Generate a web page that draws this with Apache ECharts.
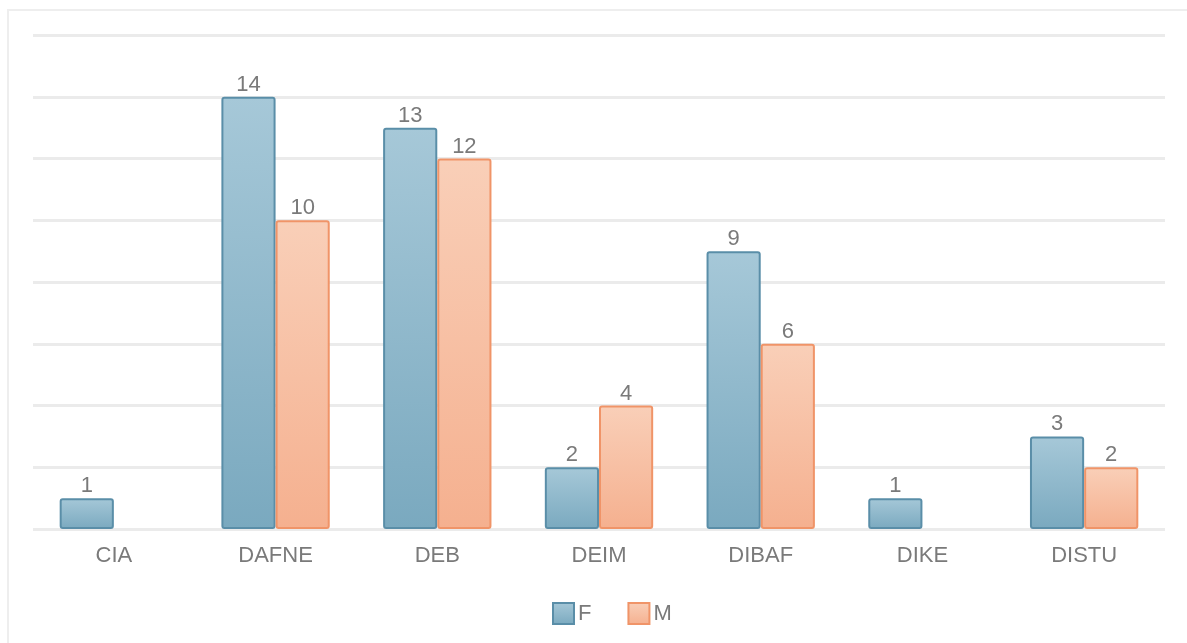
<!DOCTYPE html>
<html>
<head>
<meta charset="utf-8">
<script src="https://cdn.jsdelivr.net/npm/echarts@6/dist/echarts.min.js"></script>
<style>
html,body{margin:0;padding:0;background:#fff;}
#frame{position:absolute;left:7px;top:9px;width:1190px;height:640px;border-left:2px solid #eeeeee;border-top:2px solid #eeeeee;}
#main{position:absolute;left:0;top:0;width:1187px;height:643px;}
</style>
</head>
<body>
<div id="frame"></div>
<div id="main"></div>
<script>
const categories = ['CIA', 'DAFNE', 'DEB', 'DEIM', 'DIBAF', 'DIKE', 'DISTU'];
const valuesF = [1, 14, 13, 2, 9, 1, 3];
const valuesM = [null, 10, 12, 4, 6, null, 2];
const seriesNames = ['F', 'M'];

const FONT = 'Liberation Sans, Arial, sans-serif';
const chart = echarts.init(document.getElementById('main'), null, {renderer: 'canvas'});
const grad = (top, bottom) => new echarts.graphic.LinearGradient(0, 0, 0, 1, [
  {offset: 0, color: top}, {offset: 1, color: bottom}
]);
const labelStyle = {show: true, position: 'top', distance: 1, color: '#7a7a7a', fontSize: 22, fontFamily: FONT};
chart.setOption({
  animation: false,
  grid: {left: 33, right: 22, top: 35, bottom: 114},
  legend: {
    top: 597, left: 547, itemWidth: 21, itemHeight: 21, itemGap: 36,
    icon: 'rect',
    textStyle: {color: '#7a7a7a', fontSize: 22, fontFamily: FONT, padding: [0, 0, 0, -1]},
    data: seriesNames
  },
  xAxis: {
    type: 'category', data: categories,
    axisLine: {show: false}, axisTick: {show: false},
    axisLabel: {color: '#7a7a7a', fontSize: 22, margin: 16, fontFamily: FONT}
  },
  yAxis: {
    type: 'value', min: 0, max: 16, interval: 2,
    axisLabel: {show: false}, axisLine: {show: false}, axisTick: {show: false},
    splitLine: {lineStyle: {color: '#ebebeb', width: 3}}
  },
  series: [
    {
      name: seriesNames[0], type: 'bar', data: valuesF, barGap: '0%', barCategoryGap: '33%',
      itemStyle: {color: grad('#a6c8d8', '#7aa9bf'), borderColor: '#5a8ea8', borderWidth: 2, borderRadius: 2},
      label: labelStyle
    },
    {
      name: seriesNames[1], type: 'bar', data: valuesM, barGap: '0%', barCategoryGap: '33%',
      itemStyle: {color: grad('#f9cfb8', '#f5b08f'), borderColor: '#f09468', borderWidth: 2, borderRadius: 2},
      label: labelStyle
    }
  ]
});
</script>
</body>
</html>
